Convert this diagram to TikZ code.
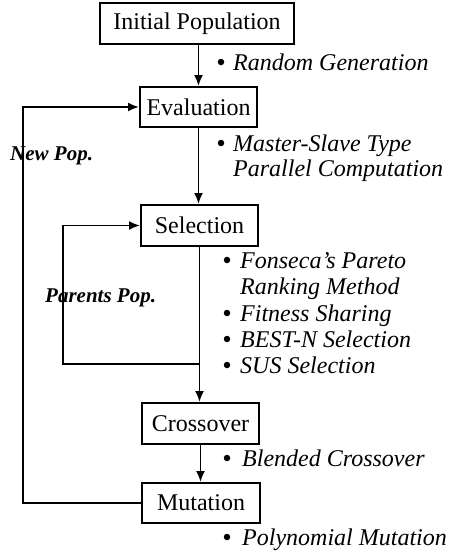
\documentclass[tikz,border=0pt]{standalone}
\usepackage{fontspec}
\setmainfont{Liberation Serif}
\usetikzlibrary{arrows.meta}
\begin{document}
\begin{tikzpicture}[x=1pt,y=-1pt,
  box/.style={draw,line width=2pt,inner sep=0pt,minimum height=41pt,font=\fontsize{24}{26}\selectfont},
  conn/.style={line width=1.9pt},
  arr/.style={conn,-{Latex[length=11pt,width=9pt]}},
  note/.style={anchor=base west,inner sep=0pt,font=\fontsize{24}{26}\selectfont\itshape},
  blt/.style={circle,fill,inner sep=0pt,minimum size=6.5pt},
  lab/.style={anchor=base west,inner sep=0pt,font=\fontsize{21}{23}\selectfont\bfseries\itshape}]
\useasboundingbox (0,0) rectangle (451,552);
\node[box,minimum width=194pt] (init) at (197,23.5) {Initial Population};
\node[box,minimum width=117pt,minimum height=40pt] (eval) at (198.5,107) {Evaluation};
\node[box,minimum width=117pt] (sel) at (199.5,225.5) {Selection};
\node[box,minimum width=117pt] (cross) at (200.5,423.5) {Crossover};
\node[box,minimum width=118pt,minimum height=40pt] (mut) at (201,503) {Mutation};
% connectors
\draw[arr] (init.south -| eval.north) -- (eval.north);
\draw[arr] (eval.south) -- (eval.south |- sel.north);
\draw[arr] (sel.south) -- (sel.south |- cross.north);
\draw[arr] (cross.south) -- (cross.south |- mut.north);
\coordinate (npc) at (23,503);
\draw[arr] (mut.west) -- (npc) |- (eval.west);
\coordinate (pj) at (sel.south |- 0,364);
\coordinate (ppc) at (63,364);
\draw[arr] (pj) -- (ppc) |- (sel.west);
% loop labels
\node[lab] (newpop) at (10,160) {New Pop.};
\node[lab] (parpop) at (45,302) {Parents Pop.};
% notes
\node[blt] (b1) at (221,62) {};
\node[note] (t1) at (233,70) {Random Generation};
\node[blt] (b2) at (221,143) {};
\node[note] (t2) at (233,151) {Master-Slave Type};
\node[note] (t2b) at (233,176) {Parallel Computation};
\node[blt] (b3) at (227,260) {};
\node[note] (t3) at (240,268) {Fonseca's Pareto};
\node[note] (t3b) at (240,294) {Ranking Method};
\node[blt] (b4) at (227,313) {};
\node[note] (t4) at (240,321) {Fitness Sharing};
\node[blt] (b5) at (227,339) {};
\node[note] (t5) at (240,347) {BEST-N Selection};
\node[blt] (b6) at (227,365) {};
\node[note] (t6) at (240,373) {SUS Selection};
\node[blt] (b7) at (227,458) {};
\node[note] (t7) at (242,466) {Blended Crossover};
\node[blt] (b8) at (227,537) {};
\node[note] (t8) at (242,545) {Polynomial Mutation};
\end{tikzpicture}
\end{document}
